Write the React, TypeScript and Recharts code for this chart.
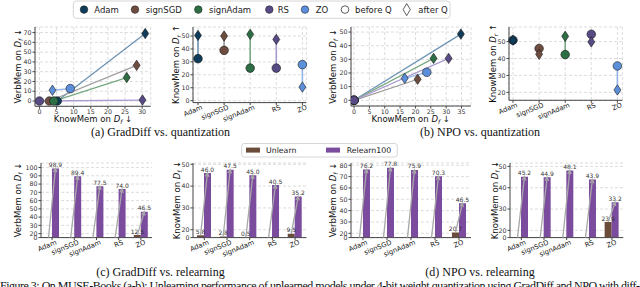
import React from "react";
import {
  ScatterChart,
  ComposedChart,
  Scatter,
  Bar,
  LabelList,
  XAxis,
  YAxis,
  CartesianGrid,
  ReferenceLine,
} from "recharts";

const methods = ["Adam", "signSGD", "signAdam", "RS", "ZO"];
const methodColors = ["#0f3c5a", "#6e4d40", "#2d6e45", "#574a85", "#5b8fd9"];
const pairLineColors = ["#6d93b3", "#9d9d9d", "#78a881", "#a99ad0", "#93b5e6"];

// (a) GradDiff vs. quantization
const gdForgetKnowBefore = [5.2, 2.9, 4.2, 0, 9];
const gdForgetVerbBefore = [0, 0, 0, 0, 12.7];
const gdForgetKnowAfter = [30.9, 28.4, 25.5, 30.1, 3.8];
const gdForgetVerbAfter = [69, 36.5, 24, 1, 11];
const gdRetainBefore = [32.5, 38.9, 25.2, 25.2, 27.9];
const gdRetainAfter = [50.5, 50, 51.3, 47.4, 10.5];

// (b) NPO vs. quantization
const npoForgetKnowBefore = [0, 0, 0, 0, 23.7];
const npoForgetVerbBefore = [0, 0, 0, 0, 20.5];
const npoForgetKnowAfter = [34.8, 20.7, 25.9, 30.8, 16.5];
const npoForgetVerbAfter = [48.5, 15.4, 30.7, 30.7, 16.1];
const npoRetainBefore = [50.8, 45.9, 42.3, 54.3, 35.6];
const npoRetainAfter = [50.8, 42.5, 53.1, 49.8, 21.4];

// (c) GradDiff vs. relearning
const gdVerbUnlearn = [0.0, 0.0, 0.0, 0.0, 12.5];
const gdVerbRelearn = [98.9, 89.4, 77.5, 74.0, 46.5];
const gdKnowUnlearn = [5.8, 2.8, 0.5, 0.0, 9.5];
const gdKnowRelearn = [46.0, 47.5, 45.0, 40.5, 35.2];

// (d) NPO vs. relearning
const npoVerbUnlearn = [0.0, 0.0, 0.0, 0.0, 20.7];
const npoVerbRelearn = [76.2, 77.8, 75.9, 70.3, 46.5];
const npoKnowUnlearn = [0.0, 0.0, 0.0, 0.0, 23.9];
const npoKnowRelearn = [45.2, 44.9, 48.1, 43.9, 33.2];

// tick labels
const gdForgetVerbTicks = [0, 10, 20, 30, 40, 50, 60, 70];
const gdForgetKnowTicks = [0, 5, 10, 15, 20, 25, 30];
const gdRetainTicks = [0, 10, 20, 30, 40, 50];
const npoForgetVerbTicks = [0, 10, 20, 30, 40, 50];
const npoForgetKnowTicks = [0, 5, 10, 15, 20, 25, 30, 35];
const npoRetainTicks = [20, 30, 40, 50];
const gdVerbTicks = [0, 20, 30, 40, 50, 60, 70, 80, 90, 100];
const gdKnowTicks = [0, 20, 30, 40, 50];
const npoVerbTicks = [0, 20, 30, 40, 50, 60, 70, 80];
const npoKnowTicks = [0, 20, 30, 40, 50];

const legendItems = ["Adam", "signSGD", "signAdam", "RS", "ZO", "before Q", "after Q"];
const barSeries = ["Unlearn", "Relearn100"];
const barColors = ["#6b4c3b", "#7b4c9e"];

const FONT = "DejaVu Sans, sans-serif";
const SERIF = "Liberation Serif, serif";

type Box = { l: number; t: number; r: number; b: number };

const YW = 16;
const PT = 3;
const PR = 3;

function frameOf(box: Box, xh: number) {
  return {
    style: {
      position: "absolute",
      left: box.l - YW,
      top: box.t - PT,
    } as React.CSSProperties,
    width: YW + box.r - box.l + PR,
    height: PT + box.b - box.t + xh,
    margin: { top: PT, right: PR, bottom: 0, left: 0 },
  };
}

const numTick = { fontSize: 6.3, fill: "#333", fontFamily: FONT };

const CatTick = (props: any) => {
  const { x, y, payload } = props;
  const ax = x + 5;
  const ay = y + 3;
  return (
    <text
      x={ax}
      y={ay}
      transform={`rotate(-22 ${ax} ${ay})`}
      textAnchor="end"
      fontSize={6.8}
      fontFamily={FONT}
      fill="#222"
    >
      {payload.value}
    </text>
  );
};

const CircleMark = (props: any) => {
  const { cx, cy, payload } = props;
  if (cx == null || cy == null) return <g />;
  return (
    <circle
      cx={cx}
      cy={cy}
      r={4.3}
      fill={methodColors[payload.m]}
      stroke="#1a1a1a"
      strokeWidth={0.6}
    />
  );
};

const DiamondMark = (props: any) => {
  const { cx, cy, payload } = props;
  if (cx == null || cy == null) return <g />;
  return (
    <path
      d={`M${cx},${cy - 5.2}L${cx + 3.5},${cy}L${cx},${cy + 5.2}L${cx - 3.5},${cy}Z`}
      fill={methodColors[payload.m]}
      stroke="#1a1a1a"
      strokeWidth={0.6}
    />
  );
};

const NoMark = () => <g />;

function FrameAxes() {
  return [
    <XAxis
      key="top"
      xAxisId="top"
      orientation="top"
      type="number"
      domain={[0, 1]}
      height={0}
      tick={false}
      tickLine={false}
      axisLine={{ stroke: "#cfcfcf" }}
    />,
    <YAxis
      key="right"
      yAxisId="right"
      orientation="right"
      type="number"
      domain={[0, 1]}
      width={0}
      tick={false}
      tickLine={false}
      axisLine={{ stroke: "#999", strokeWidth: 1.3 }}
    />,
  ];
}

function QuantScatter(props: {
  box: Box;
  knowBefore: number[];
  verbBefore: number[];
  knowAfter: number[];
  verbAfter: number[];
  xDomain: number[];
  yDomain: number[];
  xTicks: number[];
  yTicks: number[];
}) {
  const f = frameOf(props.box, 10);
  const pairs = methods.map((_, i) => [
    { x: props.knowBefore[i], y: props.verbBefore[i] },
    { x: props.knowAfter[i], y: props.verbAfter[i] },
  ]);
  const before = methods.map((_, i) => ({ x: props.knowBefore[i], y: props.verbBefore[i], m: i }));
  const after = methods.map((_, i) => ({ x: props.knowAfter[i], y: props.verbAfter[i], m: i }));
  return (
    <div style={f.style}>
      <ScatterChart width={f.width} height={f.height} margin={f.margin}>
        <CartesianGrid stroke="#dddddd" strokeDasharray="3 2" />
        <XAxis
          type="number"
          dataKey="x"
          domain={props.xDomain}
          ticks={props.xTicks}
          allowDataOverflow
          interval={0}
          height={10}
          tick={numTick}
          tickSize={2.5}
          tickMargin={1}
          stroke="#444"
        />
        <YAxis
          type="number"
          dataKey="y"
          domain={props.yDomain}
          ticks={props.yTicks}
          allowDataOverflow
          interval={0}
          width={YW}
          tick={numTick}
          tickSize={2.5}
          tickMargin={1}
          stroke="#444"
        />
        {FrameAxes()}
        {pairs.map((p, i) => (
          <Scatter
            key={"pair" + i}
            data={p}
            line={{ stroke: pairLineColors[i], strokeWidth: 1.3 }}
            shape={NoMark}
            isAnimationActive={false}
          />
        ))}
        <Scatter data={before} shape={CircleMark} isAnimationActive={false} />
        <Scatter data={after} shape={DiamondMark} isAnimationActive={false} />
      </ScatterChart>
    </div>
  );
}

function RetainDots(props: {
  box: Box;
  before: number[];
  after: number[];
  yDomain: number[];
  yTicks: number[];
  pad: { left: number; right: number };
}) {
  const f = frameOf(props.box, 26);
  const data = methods.map((name, i) => ({
    name,
    before: props.before[i],
    after: props.after[i],
    m: i,
  }));
  return (
    <div style={f.style}>
      <ComposedChart width={f.width} height={f.height} margin={f.margin} data={data}>
        <CartesianGrid stroke="#dddddd" strokeDasharray="3 2" />
        <XAxis
          dataKey="name"
          type="category"
          scale="point"
          padding={props.pad}
          interval={0}
          height={26}
          tick={<CatTick />}
          tickSize={2.5}
          tickMargin={1}
          stroke="#444"
        />
        <YAxis
          type="number"
          domain={props.yDomain}
          ticks={props.yTicks}
          allowDataOverflow
          interval={0}
          width={YW}
          tick={numTick}
          tickSize={2.5}
          tickMargin={1}
          stroke="#444"
        />
        {FrameAxes()}
        {data.map((d) => (
          <ReferenceLine
            key={"seg" + d.name}
            segment={[
              { x: d.name, y: d.before },
              { x: d.name, y: d.after },
            ]}
            stroke={pairLineColors[d.m]}
            strokeWidth={1.6}
          />
        ))}
        <Scatter dataKey="before" shape={CircleMark} isAnimationActive={false} />
        <Scatter dataKey="after" shape={DiamondMark} isAnimationActive={false} />
      </ComposedChart>
    </div>
  );
}

function RelearnBars(props: {
  box: Box;
  unlearn: number[];
  relearn: number[];
  base: number;
  top: number;
  ticks: number[];
}) {
  const { base } = props;
  // values below 20 are squeezed into the strip under the 20 tick
  const squash = (v: number) => (v >= 20 ? v : base + (v * (20 - base)) / 20);
  const f = frameOf(props.box, 24);
  const data = methods.map((name, i) => ({
    name,
    u: squash(props.unlearn[i]),
    r: squash(props.relearn[i]),
    uRaw: props.unlearn[i],
    rRaw: props.relearn[i],
  }));

  const geom = (p: any) => {
    const vb = p.viewBox && p.viewBox.width != null ? p.viewBox : p;
    return { x: +vb.x, y: +vb.y, w: +vb.width, h: +vb.height };
  };

  const valueLabel = (p: any) => {
    const g = geom(p);
    return (
      <text
        x={g.x + g.w / 2}
        y={g.y - 1.5}
        textAnchor="middle"
        fontSize={6}
        fontFamily={FONT}
        fill="#333"
      >
        {Number(p.value).toFixed(1)}
      </text>
    );
  };

  const arrowLabel = (p: any) => {
    const g = geom(p);
    const d = data[p.index];
    if (!d) return null;
    const bottom = g.y + g.h;
    const yU = bottom - (g.h * (d.u - base)) / (d.r - base);
    const x0 = g.x - g.w / 2;
    const x1 = g.x + g.w / 2;
    const y1 = g.y;
    const ang = Math.atan2(y1 - yU, x1 - x0);
    const hl = 4;
    const a1 = ang + Math.PI - 0.45;
    const a2 = ang + Math.PI + 0.45;
    return (
      <g stroke="#a8a8a8" strokeWidth={1.3} fill="none">
        <line x1={x0} y1={yU} x2={x1} y2={y1} />
        <polyline
          points={`${x1 + hl * Math.cos(a1)},${y1 + hl * Math.sin(a1)} ${x1},${y1} ${x1 + hl * Math.cos(a2)},${y1 + hl * Math.sin(a2)}`}
        />
      </g>
    );
  };

  return (
    <div style={f.style}>
      <ComposedChart
        width={f.width}
        height={f.height}
        margin={f.margin}
        data={data}
        barGap={0}
        barSize={7}
      >
        <CartesianGrid vertical={false} stroke="#dddddd" strokeDasharray="3 2" />
        <XAxis
          dataKey="name"
          type="category"
          interval={0}
          height={24}
          tick={<CatTick />}
          tickSize={2.5}
          tickMargin={1}
          stroke="#444"
        />
        <YAxis
          type="number"
          domain={[base, props.top]}
          ticks={props.ticks.map(squash)}
          tickFormatter={(v: number) => (v < 20 ? "0" : String(v))}
          allowDataOverflow
          interval={0}
          width={YW}
          tick={numTick}
          tickSize={2.5}
          tickMargin={1}
          stroke="#444"
        />
        {FrameAxes()}
        <Bar dataKey="u" fill={barColors[0]} isAnimationActive={false}>
          <LabelList dataKey="uRaw" content={valueLabel} />
        </Bar>
        <Bar dataKey="r" fill={barColors[1]} isAnimationActive={false}>
          <LabelList dataKey="rRaw" content={valueLabel} />
          <LabelList dataKey="uRaw" content={arrowLabel} />
        </Bar>
      </ComposedChart>
    </div>
  );
}

function MemTitle(props: {
  x: number;
  y: number;
  kind: string;
  set: string;
  arrow: string;
  vertical?: boolean;
}) {
  const { x, y } = props;
  return (
    <text
      x={x}
      y={y}
      transform={props.vertical ? `rotate(-90 ${x} ${y})` : undefined}
      textAnchor="middle"
      dominantBaseline="central"
      fontSize={8.5}
      fontFamily={FONT}
      fill="#111"
    >
      {props.kind} on <tspan fontStyle="italic">D</tspan>
      <tspan fontStyle="italic" fontSize={6} dy={2}>
        {props.set}
      </tspan>
      <tspan dy={-2}> {props.arrow}</tspan>
    </text>
  );
}

const boxA1: Box = { l: 35, t: 26.7, r: 150.7, b: 106 };
const boxA2: Box = { l: 193.3, t: 26.7, r: 306.7, b: 102.3 };
const boxB1: Box = { l: 350.7, t: 27, r: 470.7, b: 106 };
const boxB2: Box = { l: 509.3, t: 26.7, r: 622.7, b: 100 };
const boxC1: Box = { l: 40.7, t: 162.7, r: 151.7, b: 237.3 };
const boxC2: Box = { l: 193.3, t: 162.7, r: 306.7, b: 237.3 };
const boxD1: Box = { l: 350.7, t: 162.7, r: 470.7, b: 237.3 };
const boxD2: Box = { l: 510, t: 162.7, r: 623.3, b: 237.3 };

const legendX = [84, 135, 198.3, 269.3, 305, 345, 406.7];
const legendTextX = [94.3, 145.7, 209, 277.7, 315.7, 355, 418.3];

function Overlay() {
  return (
    <svg
      width={640}
      height={287}
      style={{ position: "absolute", left: 0, top: 0, pointerEvents: "none" }}
    >
      {/* top legend */}
      <rect x={73.3} y={1} width={376.7} height={17.3} rx={3} fill="#fff" stroke="#cccccc" strokeWidth={0.8} />
      {legendItems.map((label, i) => {
        const cx = legendX[i];
        const cy = 9.6;
        let mark;
        if (i < 5) {
          mark = <circle cx={cx} cy={cy} r={3.8} fill={methodColors[i]} stroke="#1a1a1a" strokeWidth={0.5} />;
        } else if (i === 5) {
          mark = <circle cx={cx} cy={cy} r={3.8} fill="#fff" stroke="#1a1a1a" strokeWidth={0.7} />;
        } else {
          mark = (
            <path
              d={`M${cx},${cy - 6}L${cx + 3.6},${cy}L${cx},${cy + 6}L${cx - 3.6},${cy}Z`}
              fill="#fff"
              stroke="#1a1a1a"
              strokeWidth={0.7}
            />
          );
        }
        return (
          <g key={label}>
            {mark}
            <text x={legendTextX[i]} y={12.6} fontSize={8.5} fontFamily={FONT} fill="#222">
              {label}
            </text>
          </g>
        );
      })}

      {/* bottom legend */}
      <rect x={241.7} y={143.5} width={155.6} height={13.5} rx={2.5} fill="#fff" stroke="#cccccc" strokeWidth={0.8} />
      <rect x={246} y={147.6} width={14} height={5} fill={barColors[0]} />
      <text x={266} y={152.9} fontSize={7.8} fontFamily={FONT} fill="#222">
        {barSeries[0]}
      </text>
      <rect x={326} y={147.6} width={14} height={5} fill={barColors[1]} />
      <text x={346.7} y={152.9} fontSize={7.8} fontFamily={FONT} fill="#222">
        {barSeries[1]}
      </text>

      {/* axis titles */}
      <MemTitle x={18.3} y={66.3} kind="VerbMem" set="f" arrow="↓" vertical />
      <MemTitle x={92.9} y={119} kind="KnowMem" set="f" arrow="↓" />
      <MemTitle x={176} y={64.5} kind="KnowMem" set="r" arrow="↑" vertical />
      <MemTitle x={333.3} y={66.5} kind="VerbMem" set="f" arrow="↓" vertical />
      <MemTitle x={410.7} y={119} kind="KnowMem" set="f" arrow="↓" />
      <MemTitle x={493} y={63.3} kind="KnowMem" set="r" arrow="↑" vertical />
      <MemTitle x={18} y={200} kind="VerbMem" set="f" arrow="↓" vertical />
      <MemTitle x={177} y={200} kind="KnowMem" set="f" arrow="↓" vertical />
      <MemTitle x={333} y={200} kind="VerbMem" set="f" arrow="↓" vertical />
      <MemTitle x={495} y={200} kind="KnowMem" set="f" arrow="↓" vertical />

      {/* sub-captions */}
      <g fontFamily={SERIF} fontSize={12} fill="#111" textAnchor="middle">
        <text x={160.5} y={136}>(a) GradDiff vs. quantization</text>
        <text x={480} y={136}>(b) NPO vs. quantization</text>
        <text x={160.5} y={275.5}>(c) GradDiff vs. relearning</text>
        <text x={480} y={275.5}>(d) NPO vs. relearning</text>
      </g>
      <text
        x={0}
        y={289.5}
        fontFamily={SERIF}
        fontSize={12}
        fill="#111"
        textLength={640}
        lengthAdjust="spacing"
      >
        Figure 3: On MUSE-Books (a-b): Unlearning performance of unlearned models under 4-bit weight quantization using GradDiff and NPO with diff-
      </text>
    </svg>
  );
}

export default function App() {
  return (
    <div
      style={{
        position: "absolute",
        left: 0,
        top: 0,
        width: 640,
        height: 287,
        overflow: "hidden",
        background: "#fff",
      }}
    >
      <QuantScatter
        box={boxA1}
        knowBefore={gdForgetKnowBefore}
        verbBefore={gdForgetVerbBefore}
        knowAfter={gdForgetKnowAfter}
        verbAfter={gdForgetVerbAfter}
        xDomain={[-1.3, 32.5]}
        yDomain={[-5.4, 75.7]}
        xTicks={gdForgetKnowTicks}
        yTicks={gdForgetVerbTicks}
      />
      <RetainDots
        box={boxA2}
        before={gdRetainBefore}
        after={gdRetainAfter}
        yDomain={[-1.5, 57]}
        yTicks={gdRetainTicks}
        pad={{ left: 5, right: 4 }}
      />
      <QuantScatter
        box={boxB1}
        knowBefore={npoForgetKnowBefore}
        verbBefore={npoForgetVerbBefore}
        knowAfter={npoForgetKnowAfter}
        verbAfter={npoForgetVerbAfter}
        xDomain={[-1, 38.1]}
        yDomain={[-4.2, 53.7]}
        xTicks={npoForgetKnowTicks}
        yTicks={npoForgetVerbTicks}
      />
      <RetainDots
        box={boxB2}
        before={npoRetainBefore}
        after={npoRetainAfter}
        yDomain={[15.3, 58.6]}
        yTicks={npoRetainTicks}
        pad={{ left: 4, right: 5 }}
      />
      <RelearnBars box={boxC1} unlearn={gdVerbUnlearn} relearn={gdVerbRelearn} base={15.2} top={105.5} ticks={gdVerbTicks} />
      <RelearnBars box={boxC2} unlearn={gdKnowUnlearn} relearn={gdKnowRelearn} base={16.4} top={50.6} ticks={gdKnowTicks} />
      <RelearnBars box={boxD1} unlearn={npoVerbUnlearn} relearn={npoVerbRelearn} base={16.2} top={82} ticks={npoVerbTicks} />
      <RelearnBars box={boxD2} unlearn={npoKnowUnlearn} relearn={npoKnowRelearn} base={16.6} top={51.6} ticks={npoKnowTicks} />
      <Overlay />
    </div>
  );
}
